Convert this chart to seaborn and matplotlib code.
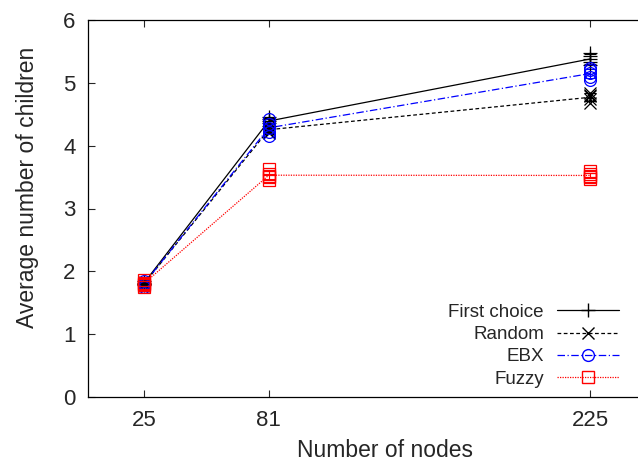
import pandas as pd
import matplotlib
matplotlib.use("Agg")
import matplotlib.pyplot as plt
import seaborn as sns
from matplotlib.lines import Line2D

sns.set_style("ticks")
plt.rcParams["font.family"] = ["Liberation Sans", "DejaVu Sans"]

nodes = [25, 81, 225]
series = ["First choice", "Random", "EBX", "Fuzzy"]

# individual runs, one list per node count
first_choice = [[1.78, 1.80, 1.82, 1.85, 1.80],
                [4.32, 4.36, 4.40, 4.46, 4.42],
                [5.28, 5.33, 5.38, 5.43, 5.48]]
random_runs = [[1.76, 1.80, 1.83, 1.79, 1.81],
               [4.20, 4.25, 4.28, 4.32, 4.22],
               [4.68, 4.74, 4.79, 4.84, 4.80]]
ebx = [[1.75, 1.80, 1.85, 1.78, 1.82],
       [4.15, 4.22, 4.28, 4.35, 4.42],
       [5.05, 5.10, 5.15, 5.20, 5.24]]
fuzzy = [[1.75, 1.80, 1.87, 1.78, 1.82],
         [3.45, 3.50, 3.55, 3.63, 3.52],
         [3.47, 3.52, 3.55, 3.59, 3.50]]

runs = dict(zip(series, [first_choice, random_runs, ebx, fuzzy]))

rows = []
for name in series:
    for n, vals in zip(nodes, runs[name]):
        for v in vals:
            rows.append({"nodes": n, "children": v, "series": name})
df = pd.DataFrame(rows)

colors = {"First choice": "black", "Random": "black", "EBX": "blue", "Fuzzy": "red"}
dashes = {"First choice": "", "Random": (3, 2), "EBX": (6, 2, 1, 2), "Fuzzy": (1, 1)}
markers = {"First choice": "+", "Random": "x", "EBX": "o", "Fuzzy": "s"}
msizes = {"First choice": 10, "Random": 8.5, "EBX": 8.5, "Fuzzy": 8}

fig = plt.figure(figsize=(6.38, 4.66), dpi=100)
# the plot box runs past the right edge of the picture (xrange 0..250)
ax = fig.add_axes([88 / 638, 69 / 466, 558 / 638, 377 / 466])

sns.lineplot(
    data=df, x="nodes", y="children", hue="series", style="series",
    palette=colors, dashes=dashes, estimator="mean",
    errorbar="sd", err_style="bars",
    err_kws={"capsize": 4, "elinewidth": 0.8, "capthick": 0.8},
    linewidth=0.9, legend=False, ax=ax
)

for name in series:
    sub = df[df["series"] == name]
    mk = markers[name]
    filled = mk in ("+", "x")
    ax.plot(sub["nodes"], sub["children"], linestyle="none", marker=mk,
            markersize=msizes[name],
            markeredgecolor=colors[name],
            markerfacecolor=colors[name] if filled else "none",
            markeredgewidth=0.9)

ax.set_xlim(0, 250)
ax.set_ylim(0, 6)
ax.set_xticks(nodes)
ax.set_yticks(range(0, 7))
ax.set_xlabel("Number of nodes", fontsize=16.5)
ax.set_ylabel("Average number of children", fontsize=16.5)
ax.xaxis.set_label_coords(0.532, -0.112)
ax.yaxis.set_label_coords(-0.108, 0.557)
ax.yaxis.label.set_va("center")
ax.tick_params(direction="in", top=True, right=True, length=5, width=0.8,
               labelsize=16)
ax.tick_params(axis="x", pad=9)
ax.tick_params(axis="y", pad=9)
for sp in ax.spines.values():
    sp.set_linewidth(0.9)
    sp.set_color("black")

handles = []
for name in series:
    mk = markers[name]
    filled = mk in ("+", "x")
    d = dashes[name]
    handles.append(Line2D([0], [0], color=colors[name], linewidth=0.9,
                          linestyle=(0, d) if d else "-",
                          marker=mk, markersize=msizes[name],
                          markeredgecolor=colors[name],
                          markerfacecolor=colors[name] if filled else "none"))
leg = ax.legend(handles, series, loc="lower left", frameon=False,
                markerfirst=False, fontsize=13.5, handlelength=3.3,
                labelspacing=0.27, borderaxespad=0, borderpad=0,
                handletextpad=0.7, bbox_to_anchor=(0.0, 0.025))
for t in leg.get_texts():
    t.set_ha("right")
# anchor the legend so its sample lines end near x = 619 px
fig.canvas.draw()
bb = leg.get_window_extent()
shift = (619 - bb.x1) / (558)
leg.set_bbox_to_anchor((shift, 0.025), transform=ax.transAxes)

fig.savefig("out.png", dpi=100)
